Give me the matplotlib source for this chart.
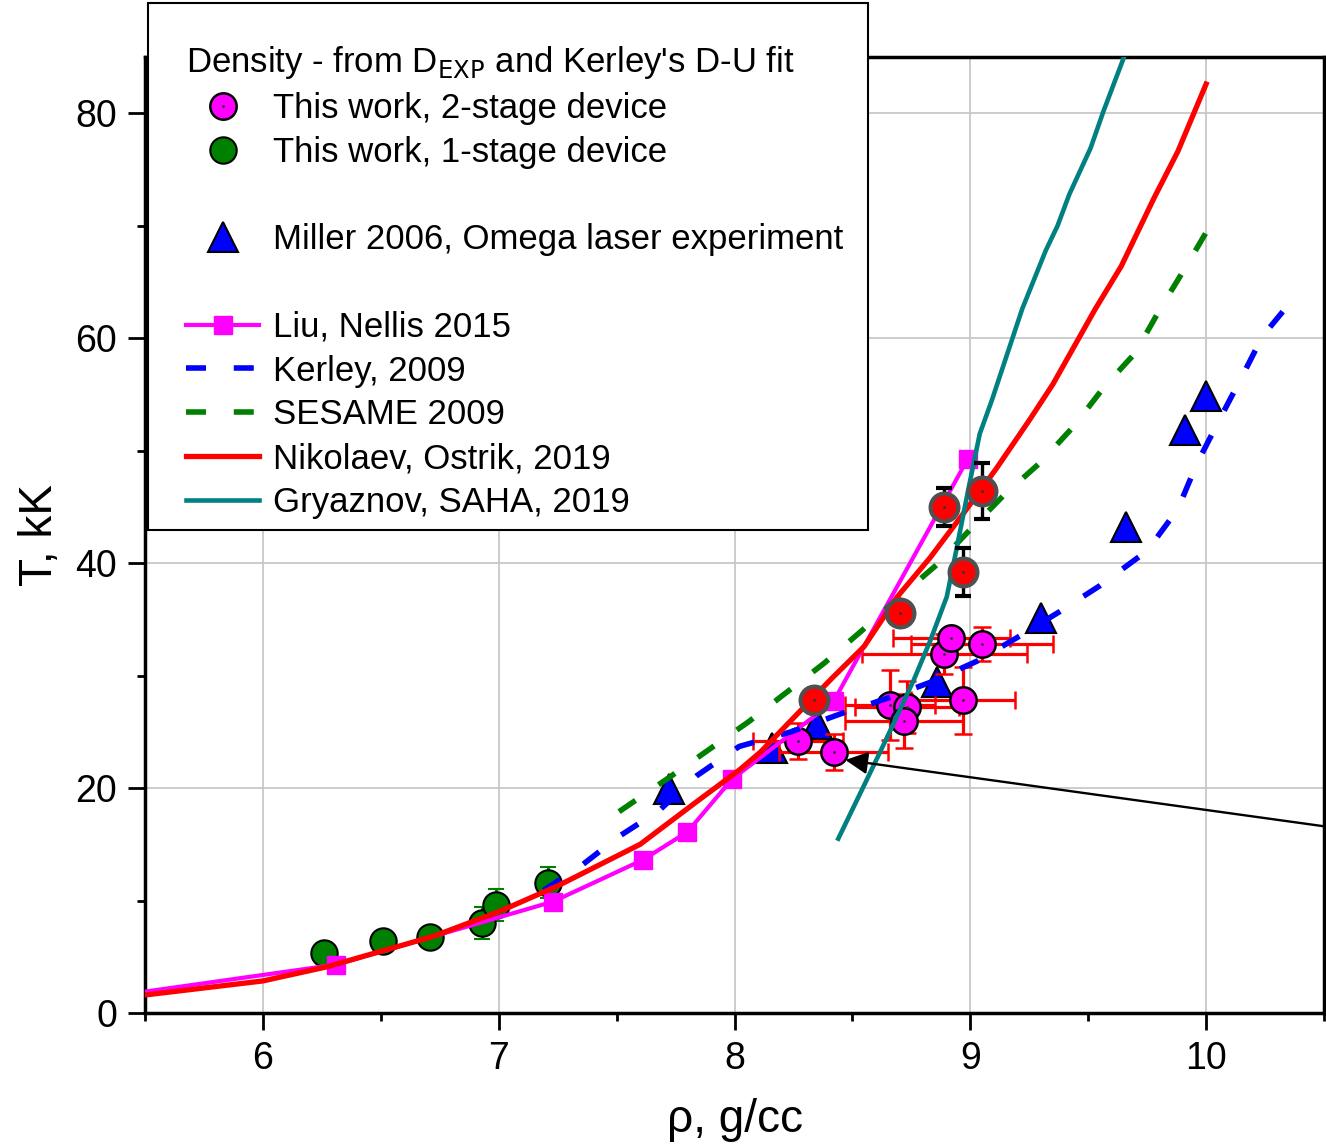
import numpy as np
import matplotlib
matplotlib.use('Agg')
import matplotlib.pyplot as plt
from matplotlib.lines import Line2D
from matplotlib.patches import Rectangle

plt.rcParams['font.family'] = ['Liberation Sans', 'DejaVu Sans']

# --- data ---
# this work, 2-stage device (magenta circles, red error bars)
rho_2st = [8.27, 8.42, 8.66, 8.73, 8.72, 8.97, 8.89, 8.92, 9.05]
T_2st = [24.2, 23.2, 27.4, 27.2, 26.0, 27.8, 31.9, 33.3, 32.8]
rho_2st_err = [0.19, 0.23, 0.19, 0.22, 0.25, 0.22, 0.35, 0.25, 0.30]
T_2st_err = [1.6, 1.6, 3.1, 2.3, 2.4, 3.0, 1.8, 0.7, 1.5]

# 2-stage points, other density estimate (red circles, black error bars)
rho_red = [8.335, 8.70, 8.89, 8.97, 9.05]
T_red = [27.8, 35.6, 45.0, 39.2, 46.4]
T_red_err = [1.0, 0.9, 1.7, 2.1, 2.5]

# this work, 1-stage device
rho_1st = [6.26, 6.51, 6.71, 6.93, 6.99, 7.21]
T_1st = [5.3, 6.4, 6.8, 8.0, 9.6, 11.6]
T_1st_err = [0, 0, 0, 1.4, 1.45, 1.4]

# Miller 2006
rho_miller = [7.72, 8.16, 8.35, 8.86, 9.30, 9.66, 9.91, 10.0]
T_miller = [19.9, 23.6, 25.7, 29.4, 35.1, 43.2, 51.8, 54.9]

# Liu, Nellis 2015 (first point is line only)
rho_liu = [5.5, 6.31, 7.23, 7.61, 7.80, 7.99, 8.42, 8.99]
T_liu = [1.9, 4.3, 9.9, 13.6, 16.1, 20.8, 27.7, 49.3]

# Kerley 2009
rho_kerley = [7.19, 7.35, 7.51, 7.68, 7.84, 8.02, 8.24, 8.45, 8.65, 8.83, 9.03,
              9.20, 9.38, 9.55, 9.75, 9.88, 9.96, 10.05, 10.15, 10.24, 10.37]
T_kerley = [10.9, 13.1, 15.7, 18.0, 21.1, 23.7, 25.0, 26.6, 28.0, 29.4, 31.3,
            33.4, 35.7, 38.0, 41.1, 44.8, 48.8, 52.5, 56.5, 60.2, 63.5]

# SESAME 2009
rho_sesame = [7.51, 7.72, 7.89, 8.06, 8.22, 8.38, 8.54, 8.70, 8.86, 9.0,
              9.145, 9.30, 9.44, 9.565, 9.70, 9.805, 9.91, 10.0]
T_sesame = [17.9, 20.9, 23.4, 25.9, 28.5, 31.1, 34.0, 37.0, 39.9, 43.0,
            46.1, 49.0, 52.2, 55.6, 58.7, 62.6, 66.2, 69.4]

# Nikolaev, Ostrik 2019
rho_nik = [5.5, 6.0, 6.27, 6.72, 7.0, 7.25, 7.6, 7.84, 8.02, 8.11, 8.41, 8.55,
           8.69, 8.83, 8.97, 9.11, 9.25, 9.35, 9.53, 9.64, 9.78, 9.88, 10.0]
T_nik = [1.6, 2.85, 4.1, 6.8, 9.0, 11.3, 15.0, 18.8, 21.6, 23.2, 29.7, 32.6,
         37.0, 40.5, 44.4, 48.4, 52.7, 55.9, 62.6, 66.4, 72.5, 76.6, 82.6]

# Gryaznov, SAHA 2019
rho_gry = [8.44, 8.56, 8.64, 8.76, 8.83, 8.90, 8.94, 8.99, 9.04, 9.09,
           9.22, 9.32, 9.37, 9.42, 9.51, 9.565, 9.65]
T_gry = [15.5, 20.7, 24.2, 29.6, 33.1, 37.0, 41.1, 46.4, 51.5, 54.4,
         62.6, 67.8, 70.0, 72.8, 76.9, 80.2, 84.9]

# arrow pointing at one 2-stage point
arrow_from = (10.5, 16.6)
arrow_to = (8.47, 22.5)

fig = plt.figure(figsize=(13.26, 11.45), dpi=100)
ax = fig.add_axes([0.1094, 0.1153, 0.8891, 0.8349])

# experimental points
ax.plot(rho_miller, T_miller, '^', ms=21, color='#0000FF', mec='black', mew=1.5, zorder=2)
ax.errorbar(rho_1st, T_1st, yerr=T_1st_err, fmt='o', ms=19, color='#008000',
            mfc='#008000', mec='black', mew=1.5, ecolor='#008000', elinewidth=2.2,
            capsize=6, capthick=2.2, zorder=2)
ax.errorbar(rho_2st, T_2st, xerr=rho_2st_err, yerr=T_2st_err, fmt='o', ms=19,
            mfc='#FF00FF', mec='black', mew=1.8, ecolor='#FF0000', elinewidth=2.3,
            capsize=6.5, capthick=2.3, zorder=3)
ax.plot(rho_2st, T_2st, '.', ms=2, color='#333333', zorder=3.5)

# model curves
ax.plot(rho_liu, T_liu, '-', color='#FF00FF', lw=3, marker='s', ms=13,
        mec='#FF00FF', markevery=list(range(1, len(rho_liu))), zorder=4)
ax.plot(rho_kerley, T_kerley, color='#0000FF', lw=4, dashes=(3.6, 5.0), zorder=4)
ax.plot(rho_sesame, T_sesame, color='#008000', lw=4, dashes=(3.6, 5.0), zorder=4)
ax.plot(rho_nik, T_nik, '-', color='#FF0000', lw=3.8, zorder=4)
ax.plot(rho_gry, T_gry, '-', color='#008080', lw=3.3, zorder=4.5)

ax.errorbar(rho_red, T_red, yerr=T_red_err, fmt='o', ms=20, mfc='#FF0000',
            mec='#505050', mew=3, ecolor='black', elinewidth=2.4, capsize=6,
            capthick=2.4, zorder=5)
ax.plot(rho_red, T_red, '.', ms=2, color='#333333', zorder=5.5)

ax.annotate('', xy=arrow_to, xytext=arrow_from,
            arrowprops=dict(arrowstyle='-|>', color='black', lw=1.7,
                            mutation_scale=34, shrinkA=0, shrinkB=0),
            zorder=6, annotation_clip=False)

# axes
ax.set_xlim(5.5, 10.5)
ax.set_ylim(0, 85)
ax.set_xticks([6, 7, 8, 9, 10])
ax.set_yticks([0, 20, 40, 60, 80])
ax.set_xticks(np.arange(5.5, 10.51, 0.5), minor=True)
ax.set_yticks(np.arange(0, 85, 10), minor=True)
ax.tick_params(which='major', direction='out', length=12, width=2, labelsize=27, pad=8)
ax.tick_params(which='minor', direction='out', length=6, width=2)
ax.grid(True, which='major', color='#c8c8c8', lw=1.3)
ax.set_axisbelow(True)
for s in ax.spines.values():
    s.set_linewidth(2.5)

ax.set_xlabel('ρ, g/cc', fontsize=33, labelpad=15)
ax.set_ylabel('T, kK', fontsize=33, labelpad=10)

# legend box (drawn as a figure patch so its size matches the original)
fig.patches.append(Rectangle((0.1116, 0.5371), 0.5430, 0.4603, transform=fig.transFigure,
                             facecolor='white', edgecolor='black', lw=1.5, zorder=3))

# legend with blank rows like the original
blank = Line2D([], [], linestyle='none')
handles = [
    (Line2D([], [], ls='none', marker='o', ms=19, mfc='#FF00FF', mec='black', mew=1.8),
     Line2D([], [], ls='none', marker='.', ms=2, color='#333333')),
    Line2D([], [], ls='none', marker='o', ms=19, mfc='#008000', mec='black', mew=1.5),
    blank,
    Line2D([], [], ls='none', marker='^', ms=21, mfc='#0000FF', mec='black', mew=1.5),
    blank,
    Line2D([], [], color='#FF00FF', lw=3, marker='s', ms=13, mec='#FF00FF'),
    Line2D([], [], color='#0000FF', lw=4, dashes=(3.6, 5.0)),
    Line2D([], [], color='#008000', lw=4, dashes=(3.6, 5.0)),
    Line2D([], [], color='#FF0000', lw=3.8),
    Line2D([], [], color='#008080', lw=3.3),
]
labels = ['This work, 2-stage device', 'This work, 1-stage device', ' ',
          'Miller 2006, Omega laser experiment', ' ',
          'Liu, Nellis 2015', 'Kerley, 2009', 'SESAME 2009',
          'Nikolaev, Ostrik, 2019', 'Gryaznov, SAHA, 2019']
leg = fig.legend(handles, labels, loc='upper left',
                 bbox_to_anchor=(0.1116, 1 - 6 / 1145), bbox_transform=fig.transFigure,
                 title="Density - from D$_\\mathrm{EXP}$ and Kerley's D-U fit",
                 title_fontsize=25, fontsize=25, frameon=False, borderaxespad=0,
                 handlelength=2.1, handletextpad=0.4, labelspacing=0.31,
                 borderpad=1.1, alignment='left')
leg.set_zorder(5)

fig.savefig('out.png', dpi=100)
